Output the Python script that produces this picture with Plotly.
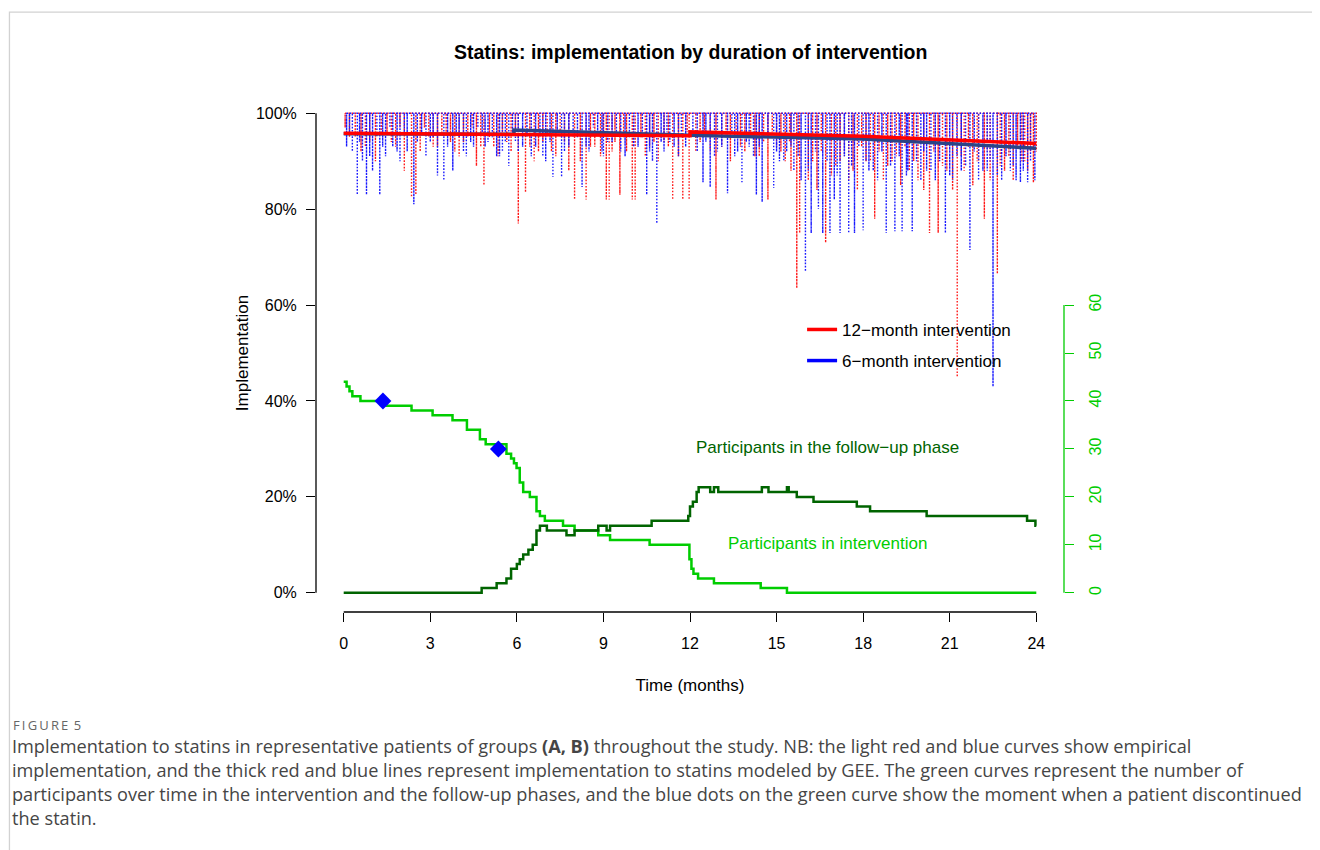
import plotly.graph_objects as go

# ---------------- data ----------------
# empirical implementation (dotted): time of each dip (months) and level reached (%)
red_dip_t = [0.2, 0.6, 0.9, 1.1, 1.5, 1.8, 2.1, 2.35, 2.5, 2.8, 3.1, 3.4, 3.7, 4.0, 4.3, 4.6, 4.86,
             5.2, 5.5, 5.8, 6.05, 6.3, 6.6, 6.9, 7.2, 7.5, 7.8, 8.0, 8.2, 8.4, 8.7, 8.9, 9.1, 9.2,
             9.4, 9.57, 9.8, 10.0, 10.1, 10.3, 10.6, 10.9, 11.1, 11.4, 11.6, 11.75, 11.97, 12.2,
             12.5, 12.9, 13.1, 13.4, 13.6, 13.9, 14.1, 14.4, 14.7, 15.0, 15.3, 15.5, 15.7, 15.8,
             16.1, 16.4, 16.7, 16.9, 17.2, 17.5, 17.8, 18.1, 18.4, 18.7, 19.0, 19.3, 19.6, 19.9,
             20.1, 20.3, 20.6, 20.9, 21.1, 21.26, 21.5, 21.8, 22.0, 22.2, 22.4, 22.65, 22.9, 23.2,
             23.5, 23.7, 23.9, 24.0]
red_dip_v = [95, 92, 94, 90, 96, 93, 88, 82.5, 83, 97, 93, 96, 94, 91, 95, 89, 85,
             93, 96, 92, 77, 83.5, 90, 94, 92, 95, 88, 82, 90, 82, 93, 91, 82, 82,
             94, 83, 92, 82, 82, 95, 93, 90, 94, 82, 91, 82, 82, 92,
             95, 82, 93, 90, 95, 92, 96, 91, 82, 93, 90, 88, 63.5, 75,
             86, 84, 73, 87, 90, 86, 84, 90, 78, 86, 90, 85, 88, 86,
             84, 75, 75, 88, 84, 45, 88, 85, 90, 78, 86, 66.5, 88, 86,
             90, 88, 85.5, 92]
red_shallow_t = [0.05, 0.4, 0.75, 1.3, 1.65, 1.95, 2.65, 2.95, 3.25, 3.55,
                 3.85, 4.15, 4.45, 4.75, 5.05, 5.35, 5.65, 5.95, 6.45, 6.75,
                 7.05, 7.35, 7.65, 8.55, 9.0, 9.3, 9.7, 10.45, 10.75, 11.25,
                 11.9, 12.35, 12.7, 13.25, 13.75, 14.25, 14.55, 14.85, 15.15, 15.45,
                 16.25, 16.55, 17.05, 17.35, 17.65, 17.95, 18.25, 18.55, 18.85, 19.15,
                 19.45, 19.75, 20.45, 20.75, 21.4, 21.65, 21.95, 22.3, 22.75, 23.05,
                 23.35, 23.6, 23.8]
red_shallow_v = [97, 95, 93, 96, 94, 97, 92, 95, 93, 96,
                 92, 94, 97, 93, 95, 91, 94, 96, 93, 92,
                 95, 91, 94, 93, 96, 92, 95, 91, 94, 93,
                 96, 94, 92, 95, 93, 91, 94, 96, 92, 94,
                 90, 92, 89, 91, 88, 93, 90, 92, 89, 91,
                 93, 90, 92, 89, 91, 93, 90, 92, 89, 91,
                 93, 90, 92]
blue_dip_t = [0.1, 0.3, 0.47, 0.65, 0.79, 1.0, 1.25, 1.45, 1.7, 1.95, 2.2, 2.43, 2.7, 3.0, 3.25,
              3.47, 3.78, 4.0, 4.25, 4.5, 4.8, 5.0, 5.3, 5.5, 5.72, 5.95, 6.2, 6.5, 6.8, 7.0,
              7.25, 7.55, 7.8, 8.1, 8.26, 8.5, 8.8, 9.0, 9.3, 9.6, 9.9, 10.2, 10.5, 10.7, 10.85,
              11.1, 11.3, 11.6, 11.85, 12.1, 12.45, 12.7, 12.95, 13.3, 13.55, 13.8, 14.05, 14.3,
              14.5, 14.9, 15.1, 15.35, 15.6, 15.85, 16.0, 16.2, 16.45, 16.6, 16.85, 17.0, 17.2,
              17.5, 17.7, 18.0, 18.2, 18.5, 18.8, 19.1, 19.35, 19.55, 19.7, 20.0, 20.2, 20.5,
              20.85, 21.1, 21.4, 21.7, 22.0, 22.3, 22.5, 22.8, 23.1, 23.3, 23.45, 23.7, 23.95]
blue_dip_v = [93, 92, 83, 90, 83, 88, 83, 91, 93, 90, 92, 81, 96, 94, 87,
              86, 88, 95, 91, 93, 96, 94, 91, 92, 89, 94, 93, 91, 95, 90,
              86.7, 86.7, 93, 95, 84.6, 92, 96, 91, 94, 92, 95, 93, 83, 90, 77,
              92, 94, 91, 93, 95, 85.6, 84.6, 92, 83.3, 91, 85.4, 93, 83,
              81.5, 84.4, 90, 92, 88, 86, 67, 75, 80, 75, 75, 82, 75,
              75, 75, 75.6, 88, 86, 75, 75.4, 75.4, 88, 75.4, 86, 88, 86,
              75, 86, 88, 71.5, 86, 88, 43, 86, 88, 86, 85.6, 85.6, 86]
blue_shallow_t = [0.2, 0.55, 0.9, 1.15, 1.35, 1.6, 1.85, 2.1, 2.55, 2.85,
                  3.1, 3.6, 3.9, 4.15, 4.4, 4.65, 4.9, 5.15, 5.4, 5.6,
                  5.85, 6.05, 6.35, 6.65, 6.9, 7.15, 7.4, 7.65, 7.95, 8.4,
                  8.65, 8.95, 9.15, 9.45, 9.75, 10.05, 10.35, 10.6, 11.0, 11.2,
                  11.45, 11.7, 12.25, 12.55, 12.85, 13.1, 13.45, 13.65, 13.95, 14.2,
                  14.4, 14.7, 15.0, 15.25, 15.5, 15.75, 16.1, 16.35, 16.75, 17.1,
                  17.35, 17.6, 17.85, 18.1, 18.35, 18.65, 18.95, 19.25, 19.5, 19.85,
                  20.1, 20.35, 20.65, 21.0, 21.25, 21.55, 21.85, 22.15, 22.4, 22.65,
                  22.95, 23.2, 23.55, 23.8]
blue_shallow_v = [96, 94, 91, 95, 93, 97, 92, 96, 94, 91,
                  95, 93, 96, 92, 94, 97, 93, 95, 91, 94,
                  96, 92, 95, 93, 91, 94, 96, 92, 95, 93,
                  97, 92, 94, 96, 91, 93, 95, 92, 94, 96,
                  93, 95, 92, 94, 91, 93, 96, 92, 94, 91,
                  93, 95, 92, 90, 93, 91, 88, 92, 90, 87,
                  91, 89, 93, 90, 88, 92, 89, 91, 87, 90,
                  92, 88, 90, 87, 91, 89, 92, 88, 90, 87,
                  91, 89, 88, 90]
top_level = 100

# GEE model (thick lines)
gee_red_t = [0, 6, 12, 12, 18, 24]
gee_red_v = [95.8, 95.5, 95.3, 96.1, 95.2, 93.7]
gee_blue_t = [0, 5.9, 5.9, 12, 18, 24]
gee_blue_v = [95.7, 95.6, 96.5, 95.4, 94.6, 92.7]

# participants (right axis, counts)
intervention_t = [0, 0.1, 0.2, 0.3, 0.58, 1.48, 2.35, 3.08, 3.77, 4.27, 4.72, 4.92, 5.64, 5.8, 5.9,
                  5.99, 6.1, 6.22, 6.45, 6.68, 6.8, 6.97, 7.6, 8.0, 8.82, 9.23, 10.6, 11.98, 12.05,
                  12.12, 12.28, 12.83, 14.45, 15.36, 24]
intervention_n = [44, 43, 42, 41, 40, 39, 38, 37, 36, 34, 32, 31, 29, 28, 27,
                  26, 23, 21, 20, 17, 16, 15, 14, 13, 12, 11, 10, 7, 5,
                  4, 3, 2, 1, 0, 0]
followup_t = [0, 4.78, 5.3, 5.64, 5.8, 6.0, 6.1, 6.22, 6.4, 6.55, 6.68, 6.8, 7.04, 7.72, 8.0,
              8.82, 9.11, 9.23, 10.67, 11.94, 12.0, 12.1, 12.23, 12.3, 12.7, 12.83, 12.98, 14.49,
              14.72, 15.36, 15.42, 15.7, 16.28, 17.78, 18.24, 20.2, 23.68, 23.97, 24]
followup_n = [0, 1, 2, 3, 5, 6, 7, 8, 9, 10, 13, 14, 13, 12, 13,
              14, 13, 14, 15, 16, 18, 19, 21, 22, 21, 22, 21, 22,
              21, 22, 21, 20, 19, 18, 17, 16, 15, 14, 14]
discontinue_t = [1.36, 5.36]
discontinue_n = [40, 30]

x_ticks = [0, 3, 6, 9, 12, 15, 18, 21, 24]
y_ticks = [0, 20, 40, 60, 80, 100]
y_ticklabels = ["0%", "20%", "40%", "60%", "80%", "100%"]
y2_ticks = [0, 10, 20, 30, 40, 50, 60]

title_text = "Statins: implementation by duration of intervention"
caption_label = "F\u2009I\u2009G\u2009U\u2009R\u2009E\u2009 5"
caption_lines = [
    "Implementation to statins in representative patients of groups <b>(A, B)</b> throughout the study. NB: the light red and blue curves show empirical",
    "implementation, and the thick red and blue lines represent implementation to statins modeled by GEE. The green curves represent the number of",
    "participants over time in the intervention and the follow-up phases, and the blue dots on the green curve show the moment when a patient discontinued",
    "the statin.",
]

# ---------------- figure ----------------
OFF = 8  # page body margin
W, H = 1320 - OFF, 850 - OFF
L, R, T, B = 316.3 - OFF, 1063.7 - OFF, 94.0 - OFF, 612.2 - OFF
FONT = "Liberation Sans, Arial, sans-serif"
CAPFONT = "Open Sans, sans-serif"
GREEN3 = "#00CD00"
DKGREEN = "#006400"


def comb(ts, vs):
    xs, ys = [], []
    for t, v in sorted(zip(ts, vs)):
        xs += [t, t, t]
        ys += [top_level, v, top_level]
    return xs, ys


def px_to_paper_x(px):
    return (px - OFF - L) / (R - L)


def px_to_paper_y(py):
    return (B - (py - OFF)) / (B - T)


fig = go.Figure()

rx, ry = comb(red_dip_t + red_shallow_t, red_dip_v + red_shallow_v)
bx, by = comb(blue_dip_t + blue_shallow_t, blue_dip_v + blue_shallow_v)
fig.add_trace(go.Scatter(x=rx, y=ry, mode="lines", line=dict(color="#ff1a1a", width=1.4, dash="1.4px,1.8px"),
                         showlegend=False, hoverinfo="skip"))
fig.add_trace(go.Scatter(x=bx, y=by, mode="lines", line=dict(color="#1a1aff", width=1.4, dash="1.4px,1.8px"),
                         showlegend=False, hoverinfo="skip"))

fig.add_trace(go.Scatter(x=gee_blue_t, y=gee_blue_v, mode="lines",
                         line=dict(color="#2b4486", width=3.5), showlegend=False))
fig.add_trace(go.Scatter(x=gee_red_t, y=gee_red_v, mode="lines", name="12\u2212month intervention",
                         line=dict(color="#ff0000", width=3.5), legendgroup="a"))
fig.add_trace(go.Scatter(x=[None], y=[None], mode="lines", name="6\u2212month intervention",
                         line=dict(color="#0000ff", width=3.5), legendgroup="b"))

fig.add_trace(go.Scatter(x=intervention_t, y=intervention_n, mode="lines", line_shape="hv",
                         line=dict(color=GREEN3, width=2.5), yaxis="y2", showlegend=False))
fig.add_trace(go.Scatter(x=followup_t, y=followup_n, mode="lines", line_shape="hv",
                         line=dict(color=DKGREEN, width=2.5), yaxis="y2", showlegend=False))
fig.add_trace(go.Scatter(x=discontinue_t, y=discontinue_n, mode="markers",
                         marker=dict(symbol="diamond", size=13, color="#0000ff"),
                         yaxis="y2", showlegend=False))

shapes = [
    # axis lines in R style (spanning first to last tick)
    dict(type="line", xref="x", yref="paper", x0=x_ticks[0], x1=x_ticks[-1], y0=0, y1=0,
         line=dict(color="black", width=1.3)),
    dict(type="line", xref="paper", yref="y", x0=0, x1=0, y0=y_ticks[0], y1=y_ticks[-1],
         line=dict(color="black", width=1.3)),
    dict(type="line", xref="paper", yref="y2", x0=1, x1=1, y0=y2_ticks[0], y1=y2_ticks[-1],
         line=dict(color=GREEN3, width=1.3)),
    # page frame
    dict(type="rect", xref="paper", yref="paper", x0=px_to_paper_x(10), x1=px_to_paper_x(1400),
         y0=px_to_paper_y(900), y1=px_to_paper_y(12), line=dict(color="#d2d2d2", width=1.3),
         layer="below"),
]

annotations = [
    dict(text="<b>" + title_text + "</b>", xref="paper", yref="paper", x=0.5, y=px_to_paper_y(52),
         showarrow=False, font=dict(family=FONT, size=19.5, color="black"), xanchor="center",
         yanchor="middle"),
    dict(text="Participants in the follow\u2212up phase", xref="x", yref="paper", x=16.75,
         y=px_to_paper_y(448), showarrow=False, font=dict(family=FONT, size=17, color=DKGREEN),
         xanchor="center", yanchor="middle"),
    dict(text="Participants in intervention", xref="x", yref="paper", x=16.75,
         y=px_to_paper_y(544), showarrow=False, font=dict(family=FONT, size=17, color=GREEN3),
         xanchor="center", yanchor="middle"),
    dict(text=caption_label, xref="paper", yref="paper", x=px_to_paper_x(12),
         y=px_to_paper_y(725.5), showarrow=False, xanchor="left", yanchor="middle",
         font=dict(family=CAPFONT, size=13, color="#666666")),
]
for i, line in enumerate(caption_lines):
    annotations.append(dict(text=line, xref="paper", yref="paper", x=px_to_paper_x(11),
                            y=px_to_paper_y(746.5 + 24 * i), showarrow=False, xanchor="left",
                            yanchor="middle",
                            font=dict(family=CAPFONT, size=18.15, color="#454545")))

fig.update_layout(
    width=W, height=H,
    margin=dict(l=L, r=W - R, t=T, b=H - B, pad=0),
    plot_bgcolor="white", paper_bgcolor="white",
    font=dict(family=FONT, size=16, color="black"),
    showlegend=True,
    legend=dict(x=px_to_paper_x(802), y=px_to_paper_y(312), xanchor="left", yanchor="top",
                bgcolor="rgba(0,0,0,0)", font=dict(family=FONT, size=17), tracegroupgap=6),
    xaxis=dict(range=[-0.96, 24.96], tickvals=x_ticks, ticks="outside", ticklen=9,
               tickcolor="black", tickwidth=1.3, showgrid=False, zeroline=False, showline=False,
               tickfont=dict(size=16), ticklabelstandoff=8,
               title=dict(text="Time (months)", font=dict(size=17), standoff=27)),
    yaxis=dict(range=[-4, 104], tickvals=y_ticks, ticktext=y_ticklabels, ticks="outside",
               ticklen=9, tickcolor="black", tickwidth=1.3, showgrid=False, zeroline=False,
               showline=False, tickfont=dict(size=16), ticklabelstandoff=6,
               title=dict(text="Implementation", font=dict(size=17), standoff=2)),
    yaxis2=dict(range=[-4, 104], overlaying="y", side="right", tickvals=y2_ticks,
                ticks="outside", ticklen=9, tickcolor=GREEN3, tickwidth=1.3, showgrid=False,
                zeroline=False, showline=False, tickangle=-90, ticklabelstandoff=8,
                tickfont=dict(size=16, color=GREEN3)),
    shapes=shapes,
    annotations=annotations,
)

fig.write_html("out.html")
